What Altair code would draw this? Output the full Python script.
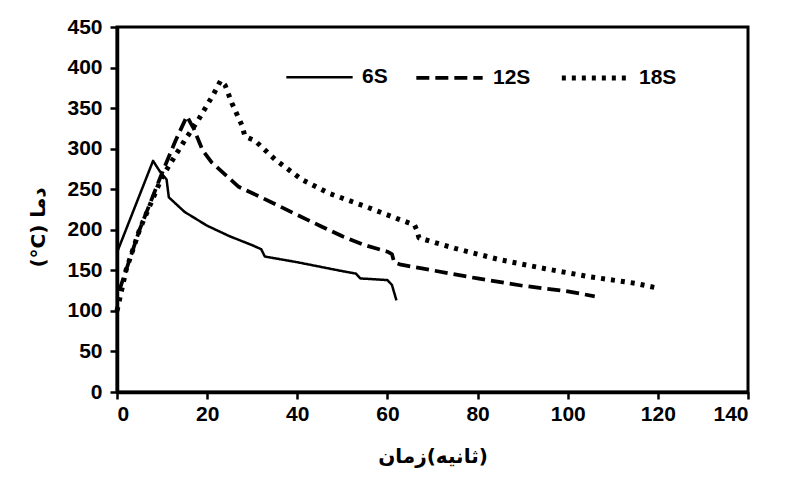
import altair as alt
import pandas as pd

series_names = ["6S", "12S", "18S"]

t6 = [0, 8, 9.5, 11, 11.5, 15, 20, 25, 30, 32, 32.8, 40, 50, 53, 54, 60, 61, 62]
T6 = [172, 285, 272, 262, 240, 222, 205, 192, 181, 176, 167, 160, 149, 146, 140, 138, 132, 113]

t12 = [0.5, 5, 10, 13, 15.5, 16.5, 17, 19, 21, 24, 27, 32, 39, 45, 50, 55, 60, 61, 61.5, 63, 70, 80, 90, 100, 106]
T12 = [125, 200, 270, 310, 340, 330, 325, 298, 283, 268, 253, 240, 221, 205, 192, 181, 173, 170, 160, 157, 150, 140, 131, 124, 118]

t18 = [0, 2, 5, 10, 15, 18, 21.5, 23, 24, 25.5, 27.7, 28.4, 30.6, 35, 41, 47, 55, 62, 66, 66.5, 67, 75, 85, 95, 105, 115, 120]
T18 = [100, 150, 200, 265, 310, 335, 368, 384, 378, 356, 329, 315, 310, 287, 262, 245, 229, 214, 206, 200, 190, 177, 163, 152, 142, 134, 128]

rows = []
for name, ts, Ts in [("6S", t6, T6), ("12S", t12, T12), ("18S", t18, T18)]:
    for i, (a, b) in enumerate(zip(ts, Ts)):
        rows.append({"s": name, "t": a, "T": b, "i": i})
df = pd.DataFrame(rows)

label_font = "Liberation Sans"
x_title = "زمان\u200e(ثانیه)"
y_title = "(°C) دما"

chart = alt.Chart(df).mark_line(
    color="black", strokeCap="butt", strokeJoin="round"
).encode(
    x=alt.X("t:Q", scale=alt.Scale(domain=[0, 140], nice=False),
            axis=alt.Axis(values=list(range(0, 141, 20)), title=x_title,
                          labelPadding=4, titlePadding=22)),
    y=alt.Y("T:Q", scale=alt.Scale(domain=[0, 450], nice=False),
            axis=alt.Axis(values=list(range(0, 451, 50)), title=y_title,
                          labelPadding=8, titlePadding=18, titleY=200)),
    strokeDash=alt.StrokeDash(
        "s:N",
        scale=alt.Scale(domain=series_names, range=[[1, 0], [13, 6], [4, 6]]),
        legend=alt.Legend(
            title=None, orient="none", legendX=168, legendY=15, direction="horizontal",
            symbolType="stroke", symbolSize=4400, symbolStrokeWidth=4.5,
            symbolStrokeColor="black", labelFont=label_font, labelFontWeight="bold",
            labelFontSize=21, labelColor="black", columnPadding=20, labelOffset=8,
        ),
    ),
    strokeWidth=alt.StrokeWidth(
        "s:N", scale=alt.Scale(domain=series_names, range=[2.5, 5, 4.5]), legend=None
    ),
    order=alt.Order("i:Q"),
).properties(
    width=631, height=365,
    background="white",
    autosize=alt.AutoSizeParams(type="none"),
    padding={"left": 109, "top": 19, "right": 29, "bottom": 83},
).configure_view(
    stroke="black", strokeWidth=3
).configure_axis(
    grid=False, labelFont=label_font, labelFontWeight="bold", labelFontSize=21,
    labelColor="black", tickColor="black", tickWidth=2.5, tickSize=7,
    domainColor="black", domainWidth=3.5,
    titleFont="DejaVu Sans", titleFontWeight="bold", titleFontSize=20, titleColor="black",
)

chart.save("out.html", embed_options={"renderer": "svg", "actions": False})
